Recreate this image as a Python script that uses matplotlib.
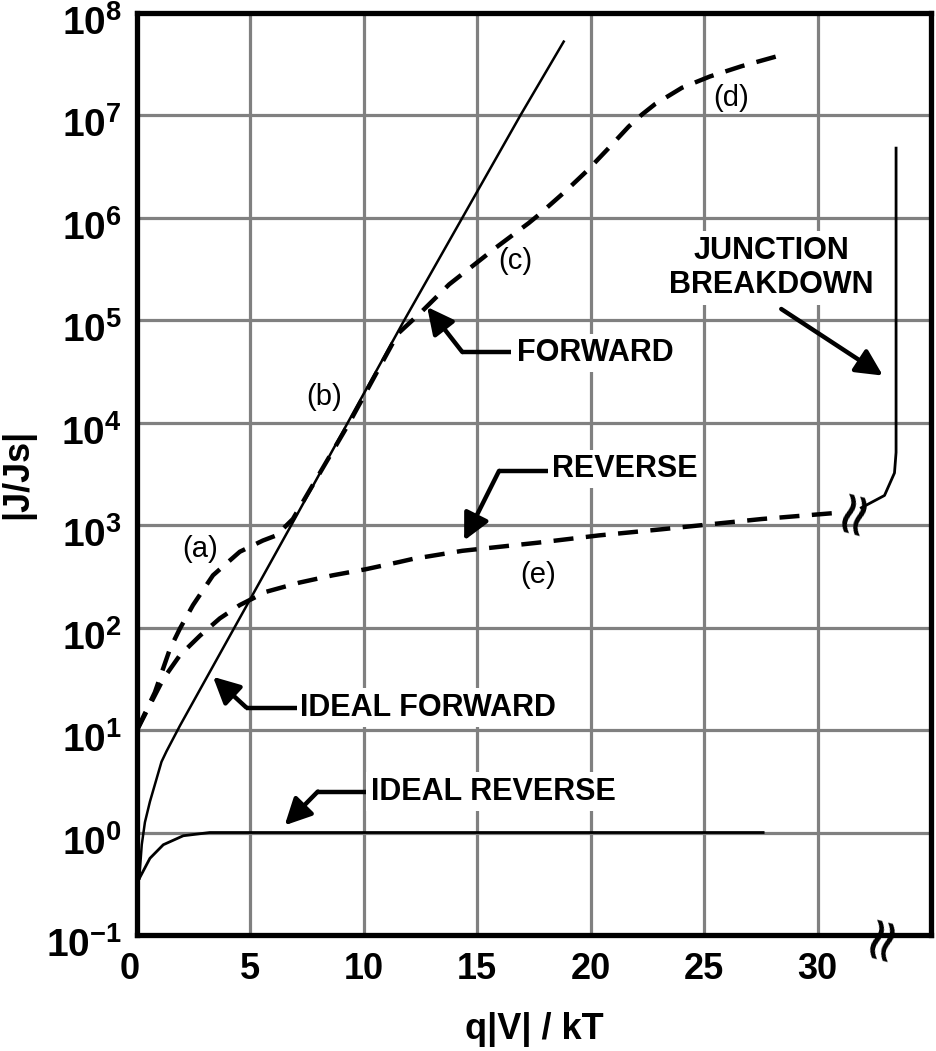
import numpy as np
import matplotlib
matplotlib.use("Agg")
import matplotlib.pyplot as plt
from matplotlib import transforms

#%% datos
ideal_fwd_x = [0.10, 0.21, 0.35, 0.57, 1.08, 1.30, 1.89, 4.82, 6.8, 9.29, 11.78, 14.34, 16.9, 18.81]
ideal_fwd_y = [0.355, 0.76, 1.26, 2.0, 4.9, 6.2, 11.0, 162, 1e3, 1e4, 1e5, 1e6, 1e7, 5.25e7]

ideal_rev_x = [0.10, 0.57, 1.16, 2.04, 3.21, 27.6]
ideal_rev_y = [0.355, 0.56, 0.76, 0.93, 1.0, 1.0]

fwd_x = [0, 0.79, 1.45, 1.89, 2.47, 3.35, 4.53, 5.55, 6.14, 6.87, 9.36, 11.5, 12.44, 13.76,
         15.08, 15.81, 17.27, 17.71, 18.89, 19.84, 20.79, 21.67, 22.26, 22.84, 24.02, 25.26, 26.65, 28.26]
fwd_y = [10, 23.4, 61.7, 97.7, 166, 324, 550, 708, 794, 1148, 1e4, 7.4e4, 1.15e5, 2.24e5,
         3.8e5, 5.1e5, 8.9e5, 1.07e6, 1.82e6, 2.88e6, 4.79e6, 7.76e6, 1.02e7, 1.29e7, 1.86e7, 2.4e7, 3.02e7, 3.8e7]

rev_x = [0, 1.16, 1.89, 2.77, 3.65, 4.53, 4.97, 5.70, 7.16, 8.63, 10.1, 11.56, 12.15, 14.34,
         17.71, 20.35, 23.13, 24.89, 27.53, 30.83]
rev_y = [10, 31.6, 53.7, 83.2, 123, 166, 186, 224, 275, 324, 372, 437, 468, 562,
         676, 794, 912, 1000, 1148, 1318]

brk_x = [31.93, 32.95, 33.39, 33.46, 33.46]
brk_y = [1479, 1950, 3236, 5129, 4.79e6]

x_ticks = [0, 5, 10, 15, 20, 25, 30]
y_exps = [-1, 0, 1, 2, 3, 4, 5, 6, 7, 8]

#%% estilo
fuente = ['Liberation Sans', 'DejaVu Sans']
plt.rcParams['font.family'] = fuente
plt.rcParams['mathtext.fontset'] = 'custom'
plt.rcParams['mathtext.rm'] = 'Liberation Sans:bold'
plt.rcParams['mathtext.bf'] = 'Liberation Sans:bold'
plt.rcParams['mathtext.it'] = 'Liberation Sans:bold'

fig = plt.figure(figsize=(9.37, 10.51), dpi=100)
ax = fig.add_axes([0.1462, 0.1104, 0.8474, 0.8773])

ax.set_yscale('log')
ax.set_xlim(0, 35)
ax.set_ylim(1e-1, 1e8)

# rejilla gris
for xv in x_ticks[1:]:
    ax.axvline(xv, color='#808080', lw=2.3, zorder=0)
for e in y_exps[1:]:
    ax.axhline(10.0 ** e, color='#808080', lw=2.3, zorder=0)

for s in ax.spines.values():
    s.set_linewidth(3.8)
    s.set_zorder(5)

ax.set_xticks(x_ticks)
ax.set_xticklabels([str(v) for v in x_ticks], fontsize=26, fontweight='bold')
ax.set_yticks([10.0 ** e for e in y_exps])
ax.set_yticklabels([r'$\mathbf{10^{%d}}$' % e for e in y_exps], fontsize=28)
ax.yaxis.set_minor_locator(matplotlib.ticker.NullLocator())
ax.tick_params(axis='x', length=0, pad=12)
ax.tick_params(axis='y', length=0, pad=11)
desplaza = transforms.ScaledTranslation(0, -7 / 100.0, fig.dpi_scale_trans)
for lab in ax.get_yticklabels():
    lab.set_transform(lab.get_transform() + desplaza)
# el 0 del eje x va un poco a la izquierda
izq = transforms.ScaledTranslation(-7 / 100.0, 0, fig.dpi_scale_trans)
ax.get_xticklabels()[0].set_transform(ax.get_xticklabels()[0].get_transform() + izq)

ax.set_xlabel('q|V| / kT', fontsize=26, fontweight='bold', labelpad=18)
ax.set_ylabel('|J/Js|', fontsize=26, fontweight='bold')
ax.yaxis.set_label_coords(-0.128, 0.5)

#%% curvas
ax.plot(ideal_fwd_x, ideal_fwd_y, color='k', lw=1.8, zorder=3)
ax.plot(ideal_rev_x, ideal_rev_y, color='k', lw=2.0, zorder=3)
ax.plot(fwd_x, fwd_y, color='k', lw=3.2, dashes=(4.5, 2.8), zorder=3)
ax.plot(rev_x, rev_y, color='k', lw=3.2, dashes=(4.5, 2.8), zorder=3)
ax.plot(brk_x, brk_y, color='k', lw=2.0, zorder=3)

# marcas de corte
ax.text(31.55, 1445, '≈', rotation=75, fontsize=44, family='DejaVu Sans',
        ha='center', va='center', zorder=4)
ax.text(32.8, 0.1, '≈', rotation=75, fontsize=44, family='DejaVu Sans',
        ha='center', va='center', zorder=6, clip_on=False)

#%% textos con flecha
caja = dict(facecolor='white', edgecolor='none', pad=3)
flecha = dict(arrowstyle='-|>', mutation_scale=40, lw=3.2, color='k', shrinkA=0, shrinkB=0)

def etiqueta(texto, xt, yt, codo, punta, linea_x):
    ax.text(xt, yt, texto, fontsize=22, fontweight='bold', ha='left', va='center',
            bbox=caja, zorder=2)
    ax.plot([codo[0], linea_x], [codo[1], codo[1]], color='k', lw=3.2, zorder=3,
            solid_capstyle='butt')
    ax.annotate('', xy=punta, xytext=codo, arrowprops=flecha, zorder=4)

etiqueta('FORWARD', 16.75, 10 ** 4.68, (14.34, 10 ** 4.69), (12.79, 10 ** 5.13), 16.5)
etiqueta('REVERSE', 18.3, 10 ** 3.55, (15.96, 10 ** 3.53), (14.42, 10 ** 2.85), 18.1)
etiqueta('IDEAL FORWARD', 7.2, 10 ** 1.22, (4.82, 10 ** 1.22), (3.35, 10 ** 1.52), 7.05)
etiqueta('IDEAL REVERSE', 10.3, 10 ** 0.40, (7.97, 10 ** 0.40), (6.51, 10 ** 0.07), 10.1)

ax.text(27.96, 10 ** 5.51, 'JUNCTION\nBREAKDOWN', fontsize=22, fontweight='bold',
        ha='center', va='center', linespacing=1.2, bbox=caja, zorder=2)
ax.annotate('', xy=(32.88, 10 ** 4.46), xytext=(28.4, 10 ** 5.11), arrowprops=flecha, zorder=4)

# letras de las curvas
for txt, xv, yv in [('(a)', 2.77, 10 ** 2.77), ('(b)', 8.26, 10 ** 4.25), ('(c)', 16.69, 10 ** 5.58),
                    ('(d)', 26.21, 10 ** 7.17), ('(e)', 17.7, 10 ** 2.51)]:
    ax.text(xv, yv, txt, fontsize=21, ha='center', va='center', zorder=4)

plt.savefig('out.png', dpi=100)
